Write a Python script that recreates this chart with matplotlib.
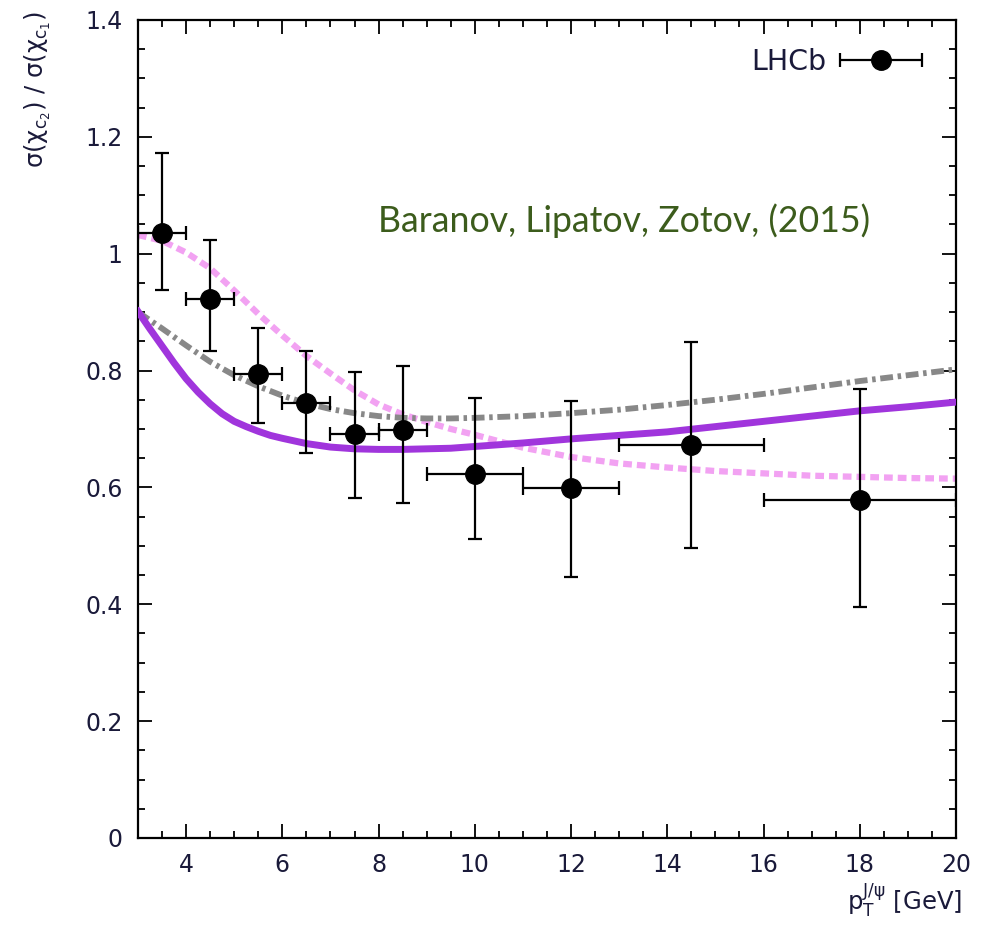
import numpy as np
import matplotlib
matplotlib.use("Agg")
import matplotlib.pyplot as plt
from matplotlib.ticker import MultipleLocator
from matplotlib.legend_handler import HandlerErrorbar
from matplotlib.container import ErrorbarContainer

plt.rcParams['font.family'] = ['DejaVu Sans']
plt.rcParams['mathtext.fontset'] = 'dejavusans'

# LHCb data
pt = [3.5, 4.5, 5.5, 6.5, 7.5, 8.5, 10.0, 12.0, 14.5, 18.0]
pt_lo = [3.0, 4.0, 5.0, 6.0, 7.0, 8.0, 9.0, 11.0, 13.0, 16.0]
pt_hi = [4.0, 5.0, 6.0, 7.0, 8.0, 9.0, 11.0, 13.0, 16.0, 20.0]
ratio = [1.035, 0.922, 0.794, 0.745, 0.691, 0.698, 0.623, 0.599, 0.673, 0.578]
ratio_up = [1.173, 1.023, 0.872, 0.833, 0.798, 0.808, 0.753, 0.747, 0.849, 0.768]
ratio_dn = [0.938, 0.833, 0.711, 0.658, 0.581, 0.573, 0.511, 0.446, 0.497, 0.396]

# theory curves
solid_x = [3.0, 3.25, 3.5, 3.75, 4.0, 4.25, 4.5, 4.75, 5.0, 5.25, 5.5, 5.75,
           6.0, 6.5, 7.0, 7.5, 8.0, 8.5, 9.0, 9.5, 10.0, 11.0, 12.0, 13.0,
           14.0, 15.0, 16.0, 17.0, 18.0, 19.0, 20.0]
solid_y = [0.901, 0.871, 0.842, 0.813, 0.786, 0.763, 0.743, 0.726, 0.713, 0.704,
           0.696, 0.689, 0.684, 0.675, 0.669, 0.666, 0.665, 0.665, 0.666, 0.667,
           0.670, 0.676, 0.683, 0.689, 0.695, 0.704, 0.713, 0.722, 0.731, 0.738,
           0.746]
curve_x = [3.0, 3.5, 4.0, 4.5, 5.0, 5.5, 6.0, 6.5, 7.0, 7.5, 8.0, 8.5, 9.0, 9.5,
           10.0, 11.0, 12.0, 13.0, 14.0, 15.0, 16.0, 17.0, 18.0, 19.0, 20.0]
grey_y = [0.900, 0.872, 0.843, 0.815, 0.792, 0.773, 0.757, 0.744, 0.734, 0.727,
          0.722, 0.719, 0.718, 0.718, 0.719, 0.722, 0.727, 0.733, 0.741, 0.750,
          0.760, 0.771, 0.782, 0.792, 0.802]
pink_y = [1.032, 1.022, 1.002, 0.975, 0.937, 0.897, 0.860, 0.825, 0.795, 0.766,
          0.742, 0.725, 0.712, 0.700, 0.690, 0.668, 0.652, 0.641, 0.634, 0.628,
          0.624, 0.620, 0.618, 0.616, 0.615]

fig = plt.figure(figsize=(9.82, 9.32), dpi=100)
ax = fig.add_axes([0.1405, 0.1009, 0.833, 0.8777])

ax.plot(curve_x, pink_y, color='#f2a2f2', lw=4.5, linestyle=(0, (1.4, 0.8)),
        dash_capstyle='butt', zorder=2)
ax.plot(curve_x, grey_y, color='#888888', lw=4.2,
        linestyle=(0, (2.2, 0.8, 0.6, 0.8)), dash_capstyle='butt', zorder=2)
ax.plot(solid_x, solid_y, color='#a035dc', lw=5.0, zorder=3)

pt_a = np.array(pt)
xerr = [pt_a - np.array(pt_lo), np.array(pt_hi) - pt_a]
r = np.array(ratio)
yerr = [r - np.array(ratio_dn), np.array(ratio_up) - r]
ax.errorbar(pt, ratio, xerr=xerr, yerr=yerr, fmt='o', color='black',
            markersize=14, elinewidth=1.6, capsize=5, capthick=1.6, zorder=5)

# legend proxy (horizontal bar only)
proxy = ax.errorbar([np.nan], [np.nan], xerr=[[1.0]], fmt='o', color='black',
                    markersize=14, elinewidth=1.6, capsize=5, capthick=1.6,
                    label='LHCb')
leg = ax.legend(handles=[proxy], loc='upper right', frameon=False,
                markerfirst=False, fontsize=20.5, handlelength=2.9,
                handletextpad=0.45, borderaxespad=0.3,
                bbox_to_anchor=(0.983, 0.99),
                handler_map={ErrorbarContainer: HandlerErrorbar(xerr_size=1.45)})
for t in leg.get_texts():
    t.set_color('#1a1a3a')

ax.text(0.293, 0.741, 'Baranov, Lipatov, Zotov, (2015)', transform=ax.transAxes,
        fontsize=25.7, color='#3c5c1c', family=['Lato', 'DejaVu Sans'],
        ha='left', va='baseline')

ax.set_xlim(3, 20)
ax.set_ylim(0, 1.4)
ax.xaxis.set_minor_locator(MultipleLocator(0.5))
ax.yaxis.set_minor_locator(MultipleLocator(0.05))
ax.set_yticks([0, 0.2, 0.4, 0.6, 0.8, 1.0, 1.2, 1.4])
ax.set_yticklabels(['0', '0.2', '0.4', '0.6', '0.8', '1', '1.2', '1.4'])
ax.set_xticks([4, 6, 8, 10, 12, 14, 16, 18, 20])
ax.set_xticklabels(['4', '6', '8', '10', '12', '14', '16', '18', '20'])
ax.tick_params(which='both', direction='in', top=True, right=True,
               labelsize=17, labelcolor='#1a1a3a', width=1.3)
ax.tick_params(which='major', length=10, pad=11)
ax.tick_params(which='minor', length=5)
for s in ax.spines.values():
    s.set_linewidth(1.6)

fig.text(0.039, 0.988,
         r'$\mathrm{σ(χ}_{\mathrm{c}_2}\mathrm{)}$ / $\mathrm{σ(χ}_{\mathrm{c}_1}\mathrm{)}$',
         rotation=90, ha='center', va='top', fontsize=17.5, color='#1a1a3a')
fig.text(0.98, 0.0236, r'$\mathrm{p}_\mathrm{T}^{\mathrm{J/ψ}}$ [GeV]',
         ha='right', va='baseline', fontsize=17.5, color='#1a1a3a')

fig.savefig('out.png', dpi=100)
